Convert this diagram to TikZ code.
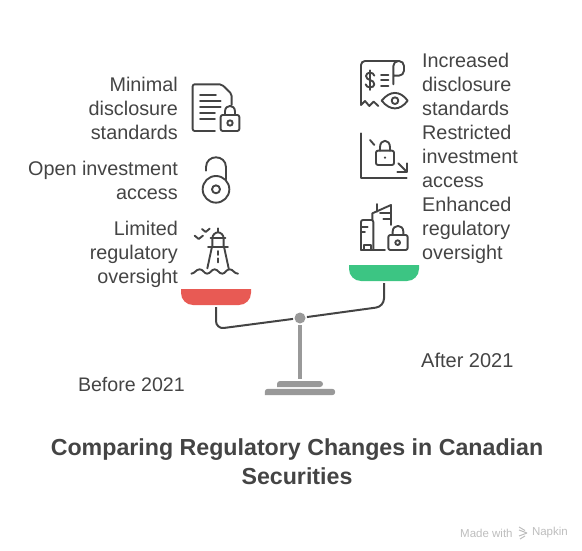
\documentclass[tikz,border=0pt]{standalone}
\usepackage{xcolor}
\usepackage{fontspec}
\setmainfont{Liberation Sans}
\usetikzlibrary{arrows.meta,positioning,calc}
\definecolor{ink}{HTML}{444444}
\definecolor{stand}{HTML}{999999}
\definecolor{redpanfill}{HTML}{E85A54}
\definecolor{greenpanfill}{HTML}{3CC583}
\definecolor{markgray}{HTML}{BDBDBD}

\begin{document}
\begin{tikzpicture}[x=1pt,y=-1pt]
  \tikzstyle{lefttext}=[anchor=east, align=right, inner sep=0pt, text=ink, font=\fontsize{19.8}{24}\selectfont]
  \tikzstyle{righttext}=[anchor=west, align=left, inner sep=0pt, text=ink, font=\fontsize{19.8}{24}\selectfont]
  \tikzstyle{panbox}=[minimum width=70pt, minimum height=16pt, inner sep=0pt, outer sep=2pt]
  \tikzstyle{glyph}=[draw=ink, line width=1.9pt, line cap=round, line join=round]
  \tikzstyle{beam}=[draw=ink, line width=2pt, rounded corners=8pt]
  \useasboundingbox (0,0) rectangle (582,551);

  % left side texts
  \node[lefttext] (minimal) at (178,108.5) {Minimal\\disclosure\\standards};
  \node[lefttext] (open) at (178,180.5) {Open investment\\access};
  \node[lefttext] (limited) at (178,254.8) {Limited\\regulatory\\oversight};
  % right side texts
  \node[righttext] (increased) at (422,84.5) {Increased\\disclosure\\standards};
  \node[righttext] (restricted) at (422,156.5) {Restricted\\investment\\access};
  \node[righttext] (enhanced) at (422,230.8) {Enhanced\\regulatory\\oversight};

  % the scale
  \node[panbox] (redpan) at (216,297) {};
  \node[panbox] (greenpan) at (384,273) {};
  \fill[redpanfill] ($(redpan.north west)+(2,2)$) -- ($(redpan.north east)+(-2,2)$)
    {[rounded corners=12pt] -- ($(redpan.south east)+(-2,-2)$) -- ($(redpan.south west)+(2,-2)$)} -- cycle;
  \fill[greenpanfill] ($(greenpan.north west)+(2,2)$) -- ($(greenpan.north east)+(-2,2)$)
    {[rounded corners=12pt] -- ($(greenpan.south east)+(-2,-2)$) -- ($(greenpan.south west)+(2,-2)$)} -- cycle;
  \node[circle, fill=stand, minimum size=11pt, inner sep=0pt, outer sep=1.5pt] (pivot) at (300,318) {};
  \coordinate (redelbow) at (216,329);
  \coordinate (greenelbow) at (384,306.5);
  \draw[beam] (redpan.south) -- (redelbow) -- (pivot);
  \draw[beam] (greenpan.south) -- (greenelbow) -- (pivot);
  \node[minimum width=46pt, minimum height=6pt, inner sep=0pt, outer sep=2pt] (upperbase) at (300,384) {};
  \node[minimum width=70pt, minimum height=6pt, inner sep=0pt] (lowerbase) at (300,392) {};
  \draw[stand, line width=4pt] (pivot) -- (upperbase);
  \fill[stand, rounded corners=3pt] (277,387) -- (277,381) -- (323,381) -- (323,387) [sharp corners] -- cycle;
  \fill[stand, rounded corners=3pt] (lowerbase.south west) -- (lowerbase.north west) -- (lowerbase.north east) -- (lowerbase.south east) [sharp corners] -- cycle;

  % document with lock
  \begin{scope}[shift={(170,70)}, scale=0.3333]
    \draw[glyph, rounded corners=2pt] (135,183) -- (68,183) -- (68,43) -- (155,43) -- (185,72) -- (185,105);
    \foreach \ya/\xb in {75/138, 93/152, 111/152, 129/135, 147/135}
      \draw[glyph] (90,\ya) -- (\xb,\ya);
    \draw[glyph, rounded corners=2pt] (152,135) rectangle (208,183);
    \draw[glyph] (165,135) -- (165,125) .. controls (165,102) and (195,102) .. (195,125) -- (195,135);
    \draw[glyph] (180,159) circle (8);
  \end{scope}

  % open lock
  \begin{scope}[shift={(170,70)}, scale=0.3333]
    \draw[glyph] (138,358) circle (40);
    \draw[glyph] (138,358) circle (12);
    \draw[glyph] (108,302) -- (108,292) .. controls (108,252) and (168,252) .. (168,292) -- (168,328);
  \end{scope}

  % lighthouse
  \begin{scope}[shift={(188,225)}, scale=0.3333]
    \draw[glyph] (20,32) -- (32,42) -- (45,32);
    \draw[glyph] (42,12) -- (53,21) -- (65,11);
    \draw[glyph] (90,10) -- (90,22);
    \draw[glyph] (73,65) -- (73,40) .. controls (73,30) and (82,22) .. (90,22) .. controls (98,22) and (107,30) .. (107,40) -- (107,65);
    \draw[glyph] (68,40) -- (112,40);
    \draw[glyph] (60,65) -- (120,65);
    \draw[glyph] (72,65) -- (58,130);
    \draw[glyph] (108,65) -- (122,130);
    \draw[glyph] (90,78) -- (90,90);
    \draw[glyph] (90,100) -- (90,112);
    \draw[glyph] (10,146) .. controls (20,146) and (24,133) .. (35,133) .. controls (46,133) and (48,146) .. (57,146)
      .. controls (68,146) and (70,133) .. (80,133) .. controls (90,133) and (92,146) .. (103,146)
      .. controls (112,146) and (114,133) .. (125,133) .. controls (136,133) and (138,146) .. (150,146);
  \end{scope}

  % receipt with eye
  \begin{scope}[shift={(355,55)}, scale=0.3333]
    \draw[glyph, rounded corners=4pt] (18,150) -- (18,18) -- (132,18);
    \draw[glyph, rounded corners=5pt] (115,88) -- (115,18) -- (147,18) -- (147,62) -- (115,62);
    \draw[glyph] (18,150) -- (30,138) -- (43,153) -- (56,140) -- (70,153);
    \draw[glyph] (58,62) .. controls (56,50) and (33,50) .. (33,63) .. controls (33,78) and (58,72) .. (58,88) .. controls (58,100) and (33,100) .. (32,88);
    \draw[glyph] (45,46) -- (45,105);
    \foreach \ya in {60, 75, 92}
      \draw[glyph] (78,\ya) -- (100,\ya);
    \draw[glyph] (80,137) .. controls (105,106) and (135,106) .. (158,137) .. controls (135,168) and (105,168) .. (80,137) -- cycle;
    \draw[glyph] (120,137) circle (10);
  \end{scope}

  % chart with lock
  \begin{scope}[shift={(340,50)}, scale=0.3333]
    \draw[glyph] (63,250) -- (63,385) -- (200,385);
    \draw[glyph] (90,270) -- (103,285);
    \draw[glyph, rounded corners=2pt] (108,302) rectangle (162,345);
    \draw[glyph] (120,302) -- (120,292) .. controls (120,266) and (150,266) .. (150,292) -- (150,302);
    \fill[ink] (135,323) circle (3.5);
    \draw[glyph] (175,340) -- (200,365);
    \draw[glyph] (200,340) -- (200,365) -- (172,365);
  \end{scope}

  % buildings with lock
  \begin{scope}[shift={(355,190)}, scale=0.3333]
    \draw[glyph, rounded corners=2pt] (18,180) -- (18,90) -- (55,90) -- (55,180);
    \draw[glyph] (18,180) -- (90,180);
    \draw[glyph] (18,110) -- (38,110);
    \draw[glyph] (18,125) -- (30,125);
    \draw[glyph] (28,180) -- (28,165) -- (48,165) -- (48,180);
    \draw[glyph] (52,90) -- (52,70) -- (108,45) -- (108,105);
    \draw[glyph] (65,42) -- (65,65);
    \draw[glyph] (75,70) -- (108,70);
    \draw[glyph] (85,88) -- (108,88);
    \draw[glyph, rounded corners=2pt] (100,135) rectangle (158,180);
    \draw[glyph] (113,135) -- (113,125) .. controls (113,102) and (145,102) .. (145,125) -- (145,135);
    \draw[glyph] (128,158) circle (7);
  \end{scope}

  \node[anchor=east, inner sep=0pt, text=ink, font=\fontsize{19.6}{24}\selectfont] (before) at (185,384.5) {Before 2021};
  \node[anchor=west, inner sep=0pt, text=ink, font=\fontsize{20}{24}\selectfont] (after) at (421,360.5) {After 2021};
  \node[align=center, inner sep=0pt, text=ink, font=\fontsize{23.2}{29}\selectfont\bfseries] (title) at (297,461.5) {Comparing Regulatory Changes in Canadian\\Securities};

  % maker mark
  \node[anchor=west, inner sep=0pt, text=markgray, font=\fontsize{11.5}{14}\selectfont] (made) at (460,533) {Made with};
  \node[anchor=east, inner sep=0pt, text=markgray, font=\fontsize{11.5}{14}\selectfont] (napkin) at (568,533) {Napkin};
  \draw[markgray, line width=1pt] (519,527) -- (525,530.5);
  \draw[markgray, line width=1pt] (519,530) -- (527,533);
  \draw[markgray, line width=1pt] (527,533) -- (519,536);
  \draw[markgray, line width=1pt] (525,536) -- (520,539);
\end{tikzpicture}
\end{document}
